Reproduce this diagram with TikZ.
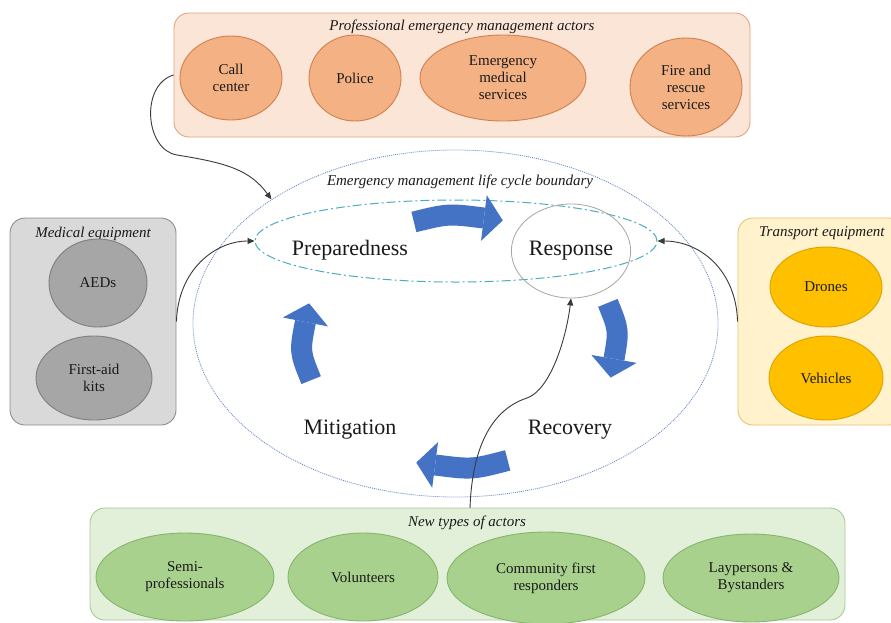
\documentclass[tikz,border=0pt]{standalone}
\usepackage{fontspec}
\setmainfont{Liberation Serif}
\usetikzlibrary{shapes.geometric,arrows.meta}
\definecolor{profFill}{HTML}{FBE5D6}
\definecolor{profDraw}{HTML}{E3A57F}
\definecolor{orFill}{HTML}{F4B183}
\definecolor{orDraw}{HTML}{D08050}
\definecolor{medFill}{HTML}{D9D9D9}
\definecolor{medDraw}{HTML}{8C8C8C}
\definecolor{grFill}{HTML}{A6A6A6}
\definecolor{grDraw}{HTML}{7F7F7F}
\definecolor{trFill}{HTML}{FFF2CC}
\definecolor{trDraw}{HTML}{E6C46A}
\definecolor{yeFill}{HTML}{FFC000}
\definecolor{yeDraw}{HTML}{D9A300}
\definecolor{nwFill}{HTML}{E2F0D9}
\definecolor{nwDraw}{HTML}{A9C79A}
\definecolor{gnFill}{HTML}{A9D18E}
\definecolor{gnDraw}{HTML}{86B46B}
\definecolor{arrowblue}{HTML}{4472C4}
\definecolor{bounddot}{HTML}{6A86C6}
\definecolor{dashdotc}{HTML}{4BACC6}
\definecolor{respgray}{HTML}{A6A6A6}
\definecolor{txt}{HTML}{1A1A1A}
\definecolor{linegray}{HTML}{3A3A3A}
\tikzset{
  grp/.style={draw, rectangle, rounded corners=15pt, line width=0.9pt, inner sep=0pt},
  ell/.style={ellipse, draw, line width=0.9pt, inner sep=0pt, align=center, text=txt,
              font=\fontsize{15}{17}\selectfont},
  ttl/.style={font=\itshape\fontsize{15}{17}\selectfont, text=txt, inner sep=0pt},
  phase/.style={font=\fontsize{22}{24}\selectfont, text=txt, inner sep=0pt},
  conn/.style={draw=linegray, line width=0.9pt, -{Triangle[length=7pt,width=6pt]}},
  cycbody/.style={draw=arrowblue, line width=21pt},
}
% curved block arrow on the cycle ellipse, clockwise from angle #1 to head base #2
\newcommand\drawCycArrow[2]{%
  \pgfmathsetmacro\cycM{(#1+#2)/2}%
  \pgfmathsetmacro\cycH{(#1-#2)/2}%
  \pgfmathsetmacro\cycBx{459.5+156*cos(#2)}%
  \pgfmathsetmacro\cycBy{341.5-125*sin(#2)}%
  \pgfmathsetmacro\cycTx{156*sin(#2)}%
  \pgfmathsetmacro\cycTy{125*cos(#2)}%
  \pgfmathsetmacro\cycN{veclen(\cycTx,\cycTy)}%
  \pgfmathsetmacro\cycUx{\cycTx/\cycN}%
  \pgfmathsetmacro\cycUy{\cycTy/\cycN}%
  \draw[cycbody] ({459.5+156*cos(#1)},{341.5-125*sin(#1)})
     .. controls ({459.5+156*cos(\cycM)/cos(\cycH)},{341.5-125*sin(\cycM)/cos(\cycH)})
     .. (\cycBx,\cycBy);
  \fill[arrowblue] ({\cycBx+19*\cycUx},{\cycBy+19*\cycUy})
     -- ({\cycBx-23*\cycUy},{\cycBy+23*\cycUx})
     -- ({\cycBx+23*\cycUy},{\cycBy-23*\cycUx}) -- cycle;
}
\begin{document}
\begin{tikzpicture}[x=1pt,y=-1pt]
\useasboundingbox (0,0) rectangle (891,622);
\fill[white] (0,0) rectangle (891,622);

% group boxes
\node[grp, draw=profDraw, fill=profFill, minimum width=576pt, minimum height=124pt] (profbox) at (462,75) {};
\node[ttl] (proftitle) at (462,27) {Professional emergency management actors};
\node[grp, draw=medDraw, fill=medFill, minimum width=166pt, minimum height=207pt] (medbox) at (93,321.5) {};
\node[ttl] (medtitle) at (93,234) {Medical equipment};
\node[grp, draw=trDraw, fill=trFill, minimum width=167pt, minimum height=207pt] (trbox) at (821.5,321.5) {};
\node[ttl, anchor=west] (trtitle) at (759,233) {Transport equipment};
\node[grp, draw=nwDraw, fill=nwFill, minimum width=755pt, minimum height=112pt] (newbox) at (467.5,564) {};
\node[ttl] (newtitle) at (467,523) {New types of actors};

% professional actors
\node[ell, draw=orDraw, fill=orFill, minimum width=102pt, minimum height=84pt] (call) at (231,78) {Call\\center};
\node[ell, draw=orDraw, fill=orFill, minimum width=92pt, minimum height=86pt] (police) at (355,78) {Police};
\node[ell, draw=orDraw, fill=orFill, minimum width=166pt, minimum height=86pt] (ems) at (503,78) {Emergency\\medical\\services};
\node[ell, draw=orDraw, fill=orFill, minimum width=112pt, minimum height=98pt] (fire) at (686,87) {Fire and\\rescue\\services};

% medical equipment
\node[ell, draw=grDraw, fill=grFill, minimum width=98pt, minimum height=88pt] (aed) at (98,283) {AEDs};
\node[ell, draw=grDraw, fill=grFill, minimum width=116pt, minimum height=84pt] (kits) at (94,378) {First-aid\\kits};

% transport equipment
\node[ell, draw=yeDraw, fill=yeFill, minimum width=112pt, minimum height=80pt] (drones) at (826,287) {Drones};
\node[ell, draw=yeDraw, fill=yeFill, minimum width=114pt, minimum height=84pt] (vehicles) at (826,378) {Vehicles};

% new types of actors
\node[ell, draw=gnDraw, fill=gnFill, minimum width=178pt, minimum height=88pt] (semi) at (185,577) {Semi-\\professionals};
\node[ell, draw=gnDraw, fill=gnFill, minimum width=150pt, minimum height=88pt] (vol) at (363,577) {Volunteers};
\node[ell, draw=gnDraw, fill=gnFill, minimum width=198pt, minimum height=92pt] (cfr) at (546,578) {Community first\\responders};
\node[ell, draw=gnDraw, fill=gnFill, minimum width=176pt, minimum height=88pt] (lay) at (751,578) {Laypersons \&\\Bystanders};

% life cycle
\node[ellipse, draw=bounddot, line width=0.8pt, dash pattern=on 1pt off 1pt, minimum width=525pt, minimum height=347pt, inner sep=0pt] (bound) at (455.5,323.5) {};
\node[ttl] (boundtitle) at (460,182) {Emergency management life cycle boundary};
\node[ellipse, draw=dashdotc, line width=1pt, dash pattern=on 9pt off 3pt on 2pt off 3pt, minimum width=402pt, minimum height=82pt, inner sep=0pt] (dd) at (456,241) {};
\node[ellipse, draw=respgray, line width=0.8pt, minimum width=104pt, minimum height=94pt, inner sep=0pt, phase] (resp) at (571,251) {Response};
\node[phase] (prep) at (350,250) {Preparedness};
\node[phase] (mitig) at (350,430) {Mitigation};
\node[phase] (recov) at (570,430) {Recovery};

% cycle arrows
\drawCycArrow{107}{81}
\drawCycArrow{18}{-8}
\drawCycArrow{-72}{-99}
\drawCycArrow{198}{171}

% connectors
\coordinate (nstart) at (470,508);
\draw[conn] (profbox.west) .. controls (140,85) and (145,150) .. (177,155)
            .. controls (227,163) and (250,170) .. (bound.146);
\draw[conn] (medbox.east) .. controls (178,270) and (215,241) .. (dd.west);
\draw[conn] (trbox.west) .. controls (736,270) and (700,241) .. (dd.east);
\draw[conn] (nstart) .. controls (472,450) and (490,410) .. (527,398)
            .. controls (550,390) and (566,340) .. (resp.south);
\end{tikzpicture}
\end{document}
